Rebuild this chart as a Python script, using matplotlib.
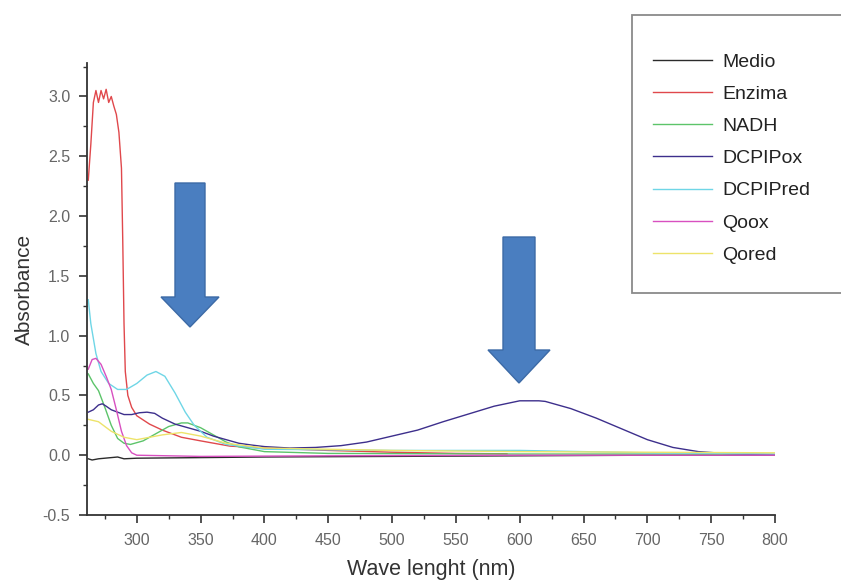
import matplotlib
matplotlib.use("Agg")
import matplotlib.pyplot as plt
import matplotlib.transforms as mtransforms
from matplotlib.patches import FancyArrow, Rectangle
from matplotlib.ticker import MultipleLocator

plt.rcParams['font.family'] = ['Liberation Sans', 'DejaVu Sans']

# espectros (nm, absorbancia)
medio_wl = [262, 265, 270, 280, 285, 290, 300, 350, 400, 500, 600, 700, 800]
medio_abs = [-0.03, -0.04, -0.03, -0.02, -0.015, -0.03, -0.025, -0.02, -0.015, -0.01, -0.005, 0.0, 0.0]

enzima_wl = [262, 264, 266, 268, 270, 272, 274, 276, 278, 280, 282, 284, 286, 288,
             289, 290, 291, 293, 296, 300, 310, 320, 335, 350, 373, 400, 450, 500, 550, 590]
enzima_abs = [2.30, 2.6, 2.95, 3.05, 2.95, 3.05, 2.98, 3.06, 2.95, 3.0, 2.92, 2.85, 2.7, 2.4,
              1.8, 1.1, 0.7, 0.5, 0.40, 0.33, 0.26, 0.21, 0.15, 0.12, 0.076, 0.06, 0.04, 0.025, 0.015, 0.012]

nadh_wl = [262, 266, 270, 275, 280, 285, 290, 295, 305, 315, 325, 335, 340, 350, 360,
           370, 380, 400, 450, 600, 700, 800]
nadh_abs = [0.68, 0.6, 0.54, 0.4, 0.25, 0.14, 0.1, 0.09, 0.12, 0.18, 0.24, 0.27, 0.27, 0.23, 0.17,
            0.11, 0.07, 0.03, 0.015, 0.01, 0.01, 0.005]

dcpipox_wl = [262, 266, 270, 273, 276, 280, 290, 296, 302, 308, 314, 320, 330, 340, 350, 360,
              370, 380, 390, 400, 420, 440, 460, 480, 500, 520, 540, 560, 580, 600, 615,
              620, 640, 660, 680, 700, 720, 740, 760, 780, 800]
dcpipox_abs = [0.36, 0.38, 0.42, 0.43, 0.41, 0.38, 0.34, 0.34, 0.355, 0.36, 0.35, 0.31, 0.26, 0.23,
               0.20, 0.16, 0.13, 0.10, 0.085, 0.072, 0.06, 0.065, 0.08, 0.11, 0.16, 0.21, 0.28,
               0.345, 0.41, 0.455, 0.455, 0.45, 0.39, 0.31, 0.22, 0.13, 0.065, 0.03, 0.015, 0.008, 0.005]

dcpipred_wl = [262, 264, 268, 272, 278, 285, 292, 300, 308, 315, 322, 330, 338, 345, 355,
               370, 400, 500, 600, 700, 800]
dcpipred_abs = [1.3, 1.1, 0.85, 0.7, 0.6, 0.55, 0.55, 0.6, 0.67, 0.70, 0.66, 0.52, 0.36, 0.25, 0.15,
                0.09, 0.05, 0.04, 0.04, 0.02, 0.01]

qoox_wl = [262, 265, 268, 272, 276, 280, 284, 288, 292, 296, 300, 350, 450, 600, 800]
qoox_abs = [0.72, 0.8, 0.81, 0.76, 0.66, 0.55, 0.38, 0.2, 0.08, 0.02, 0.0, -0.01, -0.005, 0.0, 0.0]

qored_wl = [262, 270, 280, 290, 300, 320, 335, 350, 370, 400, 500, 600, 800]
qored_abs = [0.3, 0.28, 0.2, 0.15, 0.13, 0.17, 0.19, 0.16, 0.1, 0.06, 0.04, 0.03, 0.02]

series = [
    ("Medio", medio_wl, medio_abs, "#2b2b2b"),
    ("Enzima", enzima_wl, enzima_abs, "#e0484c"),
    ("NADH", nadh_wl, nadh_abs, "#5cc46a"),
    ("DCPIPox", dcpipox_wl, dcpipox_abs, "#3d2f8c"),
    ("DCPIPred", dcpipred_wl, dcpipred_abs, "#6fd6e6"),
    ("Qoox", qoox_wl, qoox_abs, "#d850c0"),
    ("Qored", qored_wl, qored_abs, "#ede36a"),
]

fig = plt.figure(figsize=(8.41, 5.83), dpi=100)
ax = fig.add_axes([87 / 841, 1 - 515 / 583, 688 / 841, 452 / 583])

for nombre, wl, ab, col in series:
    ax.plot(wl, ab, color=col, lw=1.0, label=nombre)

ax.set_xlim(261, 800)
ax.set_ylim(-0.5, 3.28)
ax.xaxis.set_major_locator(MultipleLocator(50))
ax.xaxis.set_minor_locator(MultipleLocator(25))
ax.yaxis.set_major_locator(MultipleLocator(0.5))
ax.yaxis.set_minor_locator(MultipleLocator(0.25))
ax.set_xticks(range(300, 801, 50))
ax.yaxis.set_major_formatter(plt.FuncFormatter(lambda v, p: "%.1f" % v))

for s in ["top", "right"]:
    ax.spines[s].set_visible(False)
for s in ["left", "bottom"]:
    ax.spines[s].set_color("#333333")
    ax.spines[s].set_linewidth(1.3)

ax.tick_params(which="major", direction="out", length=6, width=1.2, color="#333333",
               labelsize=11.5, labelcolor="#666666")
ax.tick_params(axis="x", which="major", pad=7)
ax.tick_params(axis="y", which="major", pad=6)
ax.tick_params(which="minor", direction="out", length=3, width=1.0, color="#333333")

ax.set_xlabel("Wave lenght (nm)", fontsize=15.5, color="#333333", labelpad=8)
ax.set_ylabel("Absorbance", fontsize=15, color="#333333", labelpad=6)

# marco de la leyenda en pixeles (origen arriba a la izquierda)
px = mtransforms.Affine2D().scale(1 / 841, -1 / 583).translate(0, 1) + fig.transFigure
fig.patches.append(Rectangle((632, 15), 230, 278, transform=px, facecolor="white",
                             edgecolor="#8a8a8a", lw=1.3, zorder=0))

leg = fig.legend(loc="upper left", bbox_to_anchor=(653 / 841, 1 - 53 / 583),
                 fontsize=14, frameon=False, handlelength=3.05,
                 handletextpad=0.5, labelspacing=0.75, borderpad=0, borderaxespad=0)
for t in leg.get_texts():
    t.set_color("#222222")

flechas = [(190, 183, 327, 30, 58, 30), (519, 237, 383, 32, 62, 33)]
for cx, top, tip, w, hw, hl in flechas:
    fig.patches.append(FancyArrow(cx, top, 0, tip - top, width=w, head_width=hw,
                                  head_length=hl, length_includes_head=True,
                                  transform=px, facecolor="#4a7ec0",
                                  edgecolor="#3c6aa6", lw=1.0))

fig.savefig("out.png", dpi=100)
